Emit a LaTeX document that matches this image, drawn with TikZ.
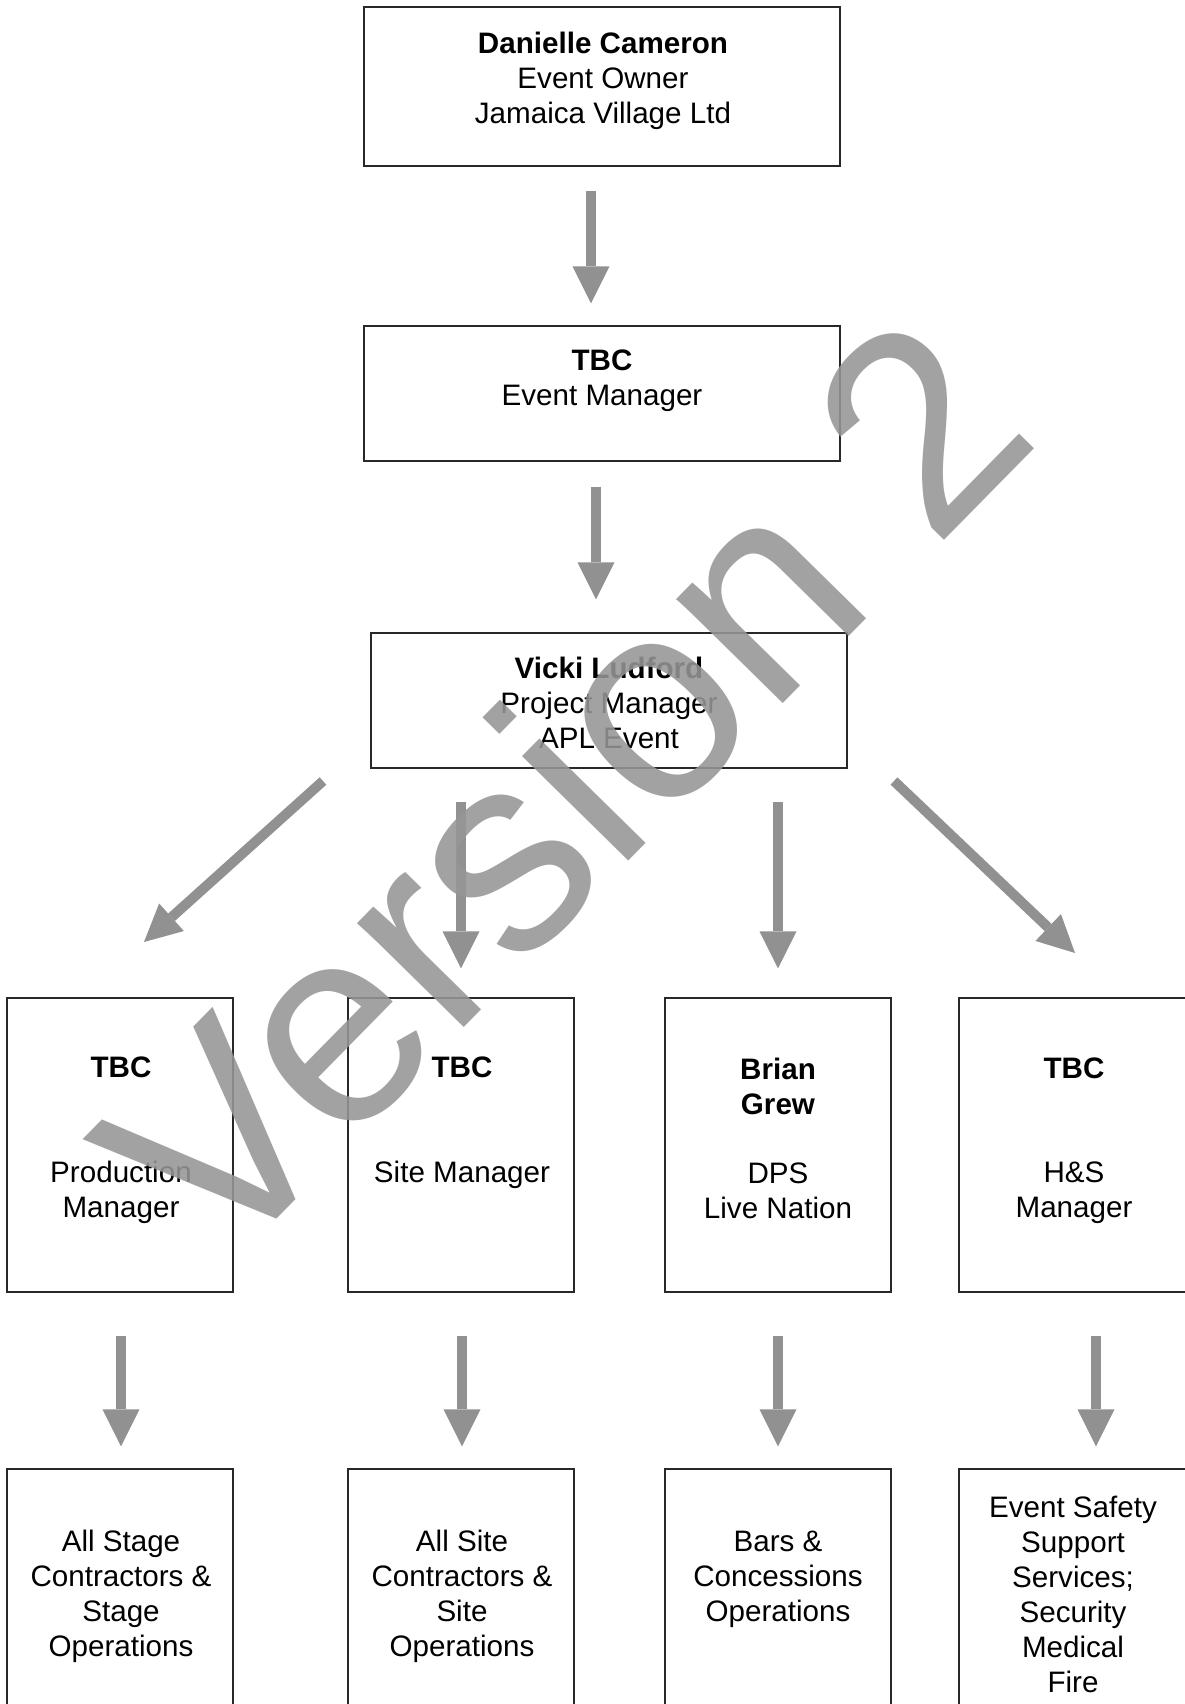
\documentclass[tikz,border=0pt]{standalone}
\usepackage{fontspec}
\setmainfont{Liberation Sans}
\usetikzlibrary{arrows.meta}
\definecolor{arrowgray}{RGB}{145,145,145}
\definecolor{wmgray}{RGB}{150,150,150}
\definecolor{boxline}{RGB}{40,40,40}
\tikzset{
  box/.style={draw=boxline, line width=1.4pt, inner sep=0pt, minimum width=226pt, minimum height=294pt},
  txt/.style={anchor=north, align=center, inner sep=0pt, font=\fontsize{29.6}{35}\selectfont},
  bigarrow/.style={draw=arrowgray, line width=10pt, -{Triangle[width=37pt,length=37pt,line width=0pt]}},
  wmark/.style={text=wmgray, text opacity=0.88, inner sep=0pt, font=\fontsize{282}{300}\selectfont}
}
\begin{document}
\begin{tikzpicture}[x=1pt,y=-1pt]
\clip (0,0) rectangle (1185,1704);
\fill[white] (0,0) rectangle (1185,1704);

% boxes
\node[box, minimum width=476pt, minimum height=159pt] (owner) at (602,86.5) {};
\node[box, minimum width=476pt, minimum height=135pt] (mgr) at (602,393.5) {};
\node[box, minimum width=476pt, minimum height=135pt] (pm) at (609,700.5) {};
\node[box] (a) at (120,1145) {};
\node[box] (b) at (461,1145) {};
\node[box] (c) at (778,1145) {};
\node[box, minimum width=231pt] (d) at (1074.5,1145) {};
\node[box, minimum height=251pt] (a2) at (120,1594.5) {};
\node[box, minimum height=251pt] (b2) at (461,1594.5) {};
\node[box, minimum height=251pt] (c2) at (778,1594.5) {};
\node[box, minimum width=231pt, minimum height=251pt] (d2) at (1074.5,1594.5) {};

% texts
\node[txt] (owner-t) at (603,32) {\textbf{Danielle Cameron}\\Event Owner\\Jamaica Village Ltd};
\node[txt] (mgr-t) at (602,350) {\textbf{TBC}\\Event Manager};
\node[txt] (pm-t) at (609,657) {\textbf{Vicki Ludford}\\Project Manager\\APL Event};
\node[txt] (a-t) at (121,1057) {\textbf{TBC}\\[70pt]Production\\Manager};
\node[txt] (b-t) at (462,1057) {\textbf{TBC}\\[70pt]Site Manager};
\node[txt] (c-t) at (778,1058) {\textbf{Brian}\\\textbf{Grew}\\[34pt]DPS\\Live Nation};
\node[txt] (d-t) at (1074,1058) {\textbf{TBC}\\[69pt]H\&S\\Manager};
\node[txt] (a2-t) at (121,1530) {All Stage\\Contractors \&\\Stage\\Operations};
\node[txt] (b2-t) at (462,1530) {All Site\\Contractors \&\\Site\\Operations};
\node[txt] (c2-t) at (778,1531) {Bars \&\\Concessions\\Operations};
\node[txt] (d2-t) at (1073,1496) {Event Safety\\Support\\Services;\\Security\\Medical\\Fire};

% connectors
\draw[bigarrow, shorten <=24pt, shorten >=22pt] ([xshift=-11pt]owner.south) -- ([xshift=-11pt]mgr.north);
\draw[bigarrow, shorten <=25pt, shorten >=33pt] ([xshift=-6pt]mgr.south) -- ([xshift=-6pt]mgr.south |- pm.north);
\draw[bigarrow, shorten <=33pt, shorten >=29pt] (pm.south -| b.north) -- (b.north);
\draw[bigarrow, shorten <=33pt, shorten >=29pt] (pm.south -| c.north) -- (c.north);
\coordinate (dl1) at (323,781);
\coordinate (dl2) at (144,942);
\coordinate (dr1) at (894,781);
\coordinate (dr2) at (1075,953);
\draw[bigarrow] (dl1) -- (dl2);
\draw[bigarrow] (dr1) -- (dr2);
\draw[bigarrow, shorten <=43pt, shorten >=22pt] ([xshift=1pt]a.south) -- ([xshift=1pt]a2.north);
\draw[bigarrow, shorten <=43pt, shorten >=22pt] ([xshift=1pt]b.south) -- ([xshift=1pt]b2.north);
\draw[bigarrow, shorten <=43pt, shorten >=22pt] (c.south) -- (c2.north);
\draw[bigarrow, shorten <=43pt, shorten >=22pt] ([xshift=21.5pt]d.south) -- ([xshift=21.5pt]d2.north);

% watermark
\node[wmark, rotate=45.5, anchor=base west] (wm) at (220,1277) {Version 2};
\end{tikzpicture}
\end{document}
